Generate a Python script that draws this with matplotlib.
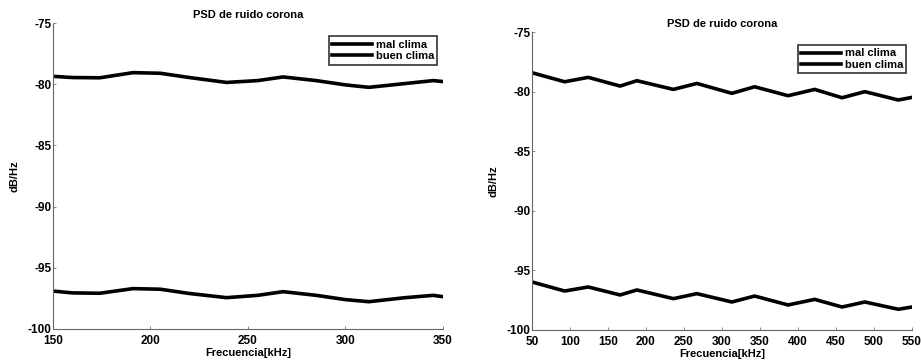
import numpy as np
import matplotlib.pyplot as plt

plt.rcParams['font.family'] = ['Liberation Sans', 'DejaVu Sans']
plt.rcParams['axes.unicode_minus'] = False

# left panel: 150-350 kHz
f_left = [150, 160, 174, 191, 205, 220, 239, 255, 268, 285, 300, 312, 330, 345, 350]
mal_left = [-79.35, -79.45, -79.47, -79.05, -79.10, -79.45, -79.85, -79.70, -79.40, -79.70, -80.05, -80.25, -79.95, -79.70, -79.78]
buen_left = [-96.90, -97.05, -97.08, -96.70, -96.75, -97.10, -97.44, -97.25, -96.95, -97.25, -97.60, -97.77, -97.45, -97.25, -97.36]

# right panel: 50-550 kHz
f_right = [50, 93, 124, 166, 188, 236, 267, 313, 343, 387, 422, 458, 488, 532, 550]
mal_right = [-78.41, -79.17, -78.80, -79.53, -79.08, -79.81, -79.31, -80.14, -79.59, -80.34, -79.81, -80.51, -80.00, -80.70, -80.48]
buen_right = [-95.97, -96.73, -96.39, -97.06, -96.64, -97.37, -96.95, -97.65, -97.15, -97.90, -97.43, -98.07, -97.65, -98.26, -98.07]

fig = plt.figure(figsize=(9.21, 3.62), dpi=100)
ax1 = fig.add_axes([0.0575, 0.0912, 0.4235, 0.845])
ax2 = fig.add_axes([0.5776, 0.0884, 0.4126, 0.823])


def style(ax, f, mal, buen, xticks):
    ax.plot(f, mal, color='black', lw=2.6, label='mal clima')
    ax.plot(f, buen, color='black', lw=2.6, label='buen clima')
    ax.set_xlim(f[0], f[-1])
    ax.set_ylim(-100, -75)
    ax.set_xticks(xticks)
    ax.set_yticks([-100, -95, -90, -85, -80, -75])
    for s in ['top', 'right']:
        ax.spines[s].set_visible(False)
    for s in ['left', 'bottom']:
        ax.spines[s].set_color('#666666')
        ax.spines[s].set_linestyle((0, (1, 1)))
        ax.spines[s].set_linewidth(0.8)
    ax.tick_params(direction='in', length=2, width=0.6, color='#777777',
                   labelsize=8.5)
    ax.tick_params(axis='y', pad=1)
    ax.tick_params(axis='x', pad=4.5)
    for lab in ax.get_xticklabels() + ax.get_yticklabels():
        lab.set_fontweight('bold')
    ax.set_title('PSD de ruido corona', fontsize=8, fontweight='bold', pad=4)
    ax.set_xlabel('Frecuencia[kHz]', fontsize=8, fontweight='bold', labelpad=0.5)
    ax.set_ylabel('dB/Hz', fontsize=8, fontweight='bold', labelpad=6)
    leg = ax.legend(loc='upper right', fontsize=8, frameon=True, fancybox=False,
                    handlelength=3.6, handletextpad=0.3, borderpad=0.3,
                    labelspacing=0.15, bbox_to_anchor=(1.0, 0.975))
    leg.get_frame().set_edgecolor('black')
    leg.get_frame().set_linewidth(1.2)
    for t in leg.get_texts():
        t.set_fontweight('bold')


style(ax1, f_left, mal_left, buen_left, [150, 200, 250, 300, 350])
style(ax2, f_right, mal_right, buen_right, list(range(50, 551, 50)))

fig.savefig('out.png', dpi=100)
